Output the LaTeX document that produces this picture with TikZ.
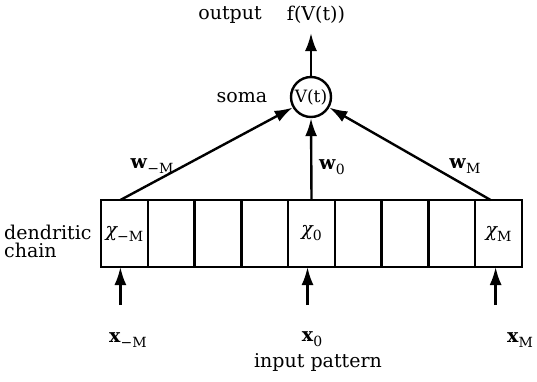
\documentclass[tikz,border=0pt]{standalone}
\usepackage{fontspec}
\setmainfont{DejaVu Serif}
\usetikzlibrary{arrows.meta,calc}
\newcommand{\mysub}[1]{\raisebox{-5pt}{\upshape\fontsize{14}{14}\selectfont #1}}
\begin{document}
\begin{tikzpicture}[x=1pt,y=-1pt,
  every node/.style={font=\fontsize{19}{22}\selectfont},
  cell/.style={draw,line width=2.4pt,minimum width=46.78pt,minimum height=67pt,inner sep=0pt,outer sep=0pt},
  conn/.style={line width=2.4pt,-{Latex[length=18pt,width=12pt]}},
  soma/.style={draw,circle,line width=2.4pt,minimum size=40pt,inner sep=0pt}]
\useasboundingbox (0,0) rectangle (537,381);
% chain
\foreach \i in {1,...,9}{
  \node[cell] (c\i) at ({101+46.78*(\i-0.5)},233.5) {};
}
\node at (c1) {{\itshape χ}\mysub{−M}};
\node at (c5) {{\itshape χ}\mysub{0}};
\node at (c9) {{\itshape χ}\mysub{M}};
\node[align=left,anchor=west,inner sep=0pt] (dc) at (4,241) {dendritic\\[-4pt]chain};
% soma
\node[soma,font=\fontsize{17}{20}\selectfont] (s) at (311,97) {V(t)};
\node (somalbl) at (242,98) {soma};
\coordinate (out) at (311,33);
\draw[conn] (s.north) -- (out);
\node (outlbl) at (230,15) {output};
\node (fvt) at (316,15) {f(V(t))};
% weights
\draw[conn] ([xshift=-4pt]c1.north) -- (s.210);
\draw[conn] (c5.north) -- (s.south);
\draw[conn] ([xshift=-8pt]c9.north) -- (s.330);
\node (wm) at (152,166) {\textbf{w}\mysub{−M}};
\node (w0) at (332,167) {\textbf{w}\mysub{0}};
\node (wp) at (465,166) {\textbf{w}\mysub{M}};
% inputs
\coordinate (i1) at ($(c1.south)+(-4,38)$);
\coordinate (i5) at ($(c5.south)+(-4,38)$);
\coordinate (i9) at ($(c9.south)+(-3,38)$);
\draw[conn] (i1) -- (i1 |- c1.south);
\draw[conn] (i5) -- (i5 |- c5.south);
\draw[conn] (i9) -- (i9 |- c9.south);
\node (xm) at (128,340) {\textbf{x}\mysub{−M}};
\node (x0) at (312,339) {\textbf{x}\mysub{0}};
\node (xp) at (520,340) {\textbf{x}\mysub{M}};
\node (ip) at (318,362) {input pattern};
\end{tikzpicture}
\end{document}
